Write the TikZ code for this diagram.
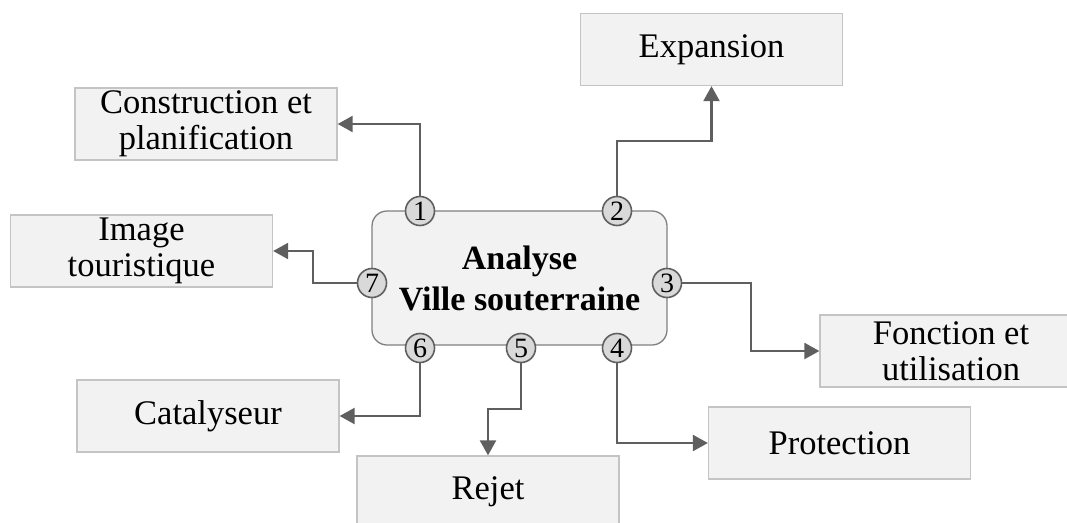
\documentclass[tikz,border=0pt]{standalone}
\usepackage{fontspec}
\setmainfont{Liberation Serif}
\usetikzlibrary{arrows.meta}

\definecolor{boxfill}{HTML}{F2F2F2}
\definecolor{boxline}{HTML}{C4C4C4}
\definecolor{numfill}{HTML}{D9D9D9}
\definecolor{linkgray}{HTML}{5F5F5F}

\tikzset{
  theme/.style={draw=boxline, fill=boxfill, line width=1.3pt, minimum width=262pt,
    minimum height=72pt, inner sep=0pt, align=center,
    font=\fontsize{34.5}{36}\selectfont},
  hub/.style={draw=gray, fill=boxfill, line width=1.3pt, rounded corners=15pt,
    minimum width=295pt, minimum height=134pt, align=center,
    font=\fontsize{34}{41}\selectfont\bfseries},
  num/.style={circle, draw=linkgray, fill=numfill, line width=1.6pt,
    minimum size=29pt, inner sep=0pt, font=\fontsize{28}{28}\selectfont},
  link/.style={draw=linkgray, line width=2.3pt,
    -{Triangle[length=15pt,width=16pt]}}
}

\begin{document}
\begin{tikzpicture}[x=1pt,y=-1pt]
  \useasboundingbox (0,0) rectangle (1067,522);

  % Centre
  \node[hub] (ana) at (519.5,278) {Analyse\\Ville souterraine};

  % Themes
  \node[theme] (exp)  at (711.5,49.5) {Expansion};
  \node[theme] (cons) at (206,124)    {Construction et\\planification};
  \node[theme] (img)  at (141.5,251)  {Image\\touristique};
  \node[theme] (fonc) at (951,351)    {Fonction et\\utilisation};
  \node[theme] (prot) at (839.5,443)  {Protection};
  \node[theme] (cat)  at (208,416)    {Catalyseur};
  \node[theme] (rej)  at (488,492)    {Rejet};

  % Numbered ports
  \node[num] (n1) at (420,211) {1};
  \node[num] (n2) at (617,211) {2};
  \node[num] (n3) at (667,283) {3};
  \node[num] (n4) at (617,348) {4};
  \node[num] (n5) at (521,348) {5};
  \node[num] (n6) at (420,348) {6};
  \node[num] (n7) at (372,283) {7};

  % Links
  \draw[link] (n1.north) |- (cons.east);
  \draw[link] (n2.north) -- ++(0,-55) -| (exp.south);
  \draw[link] (n3.east) -- ++(69,0) |- (fonc.west);
  \draw[link] (n4.south) |- (prot.west);
  \draw[link] (n5.south) -- ++(0,46) -| (rej.north);
  \draw[link] (n6.south) |- (cat.east);
  \draw[link] (n7.west) -- ++(-44,0) |- (img.east);
\end{tikzpicture}
\end{document}
